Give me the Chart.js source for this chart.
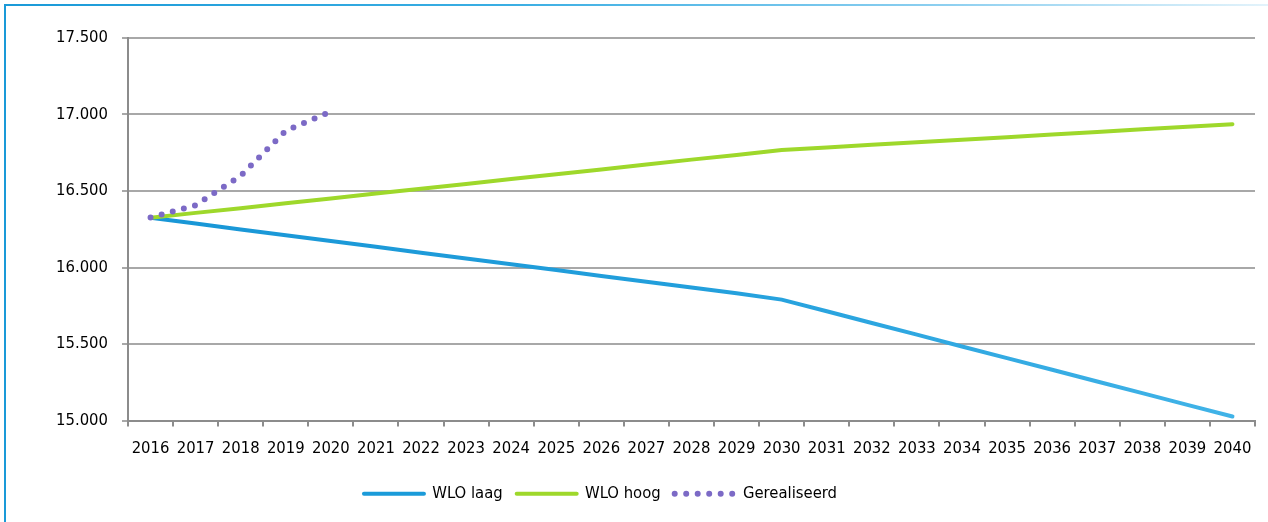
<!DOCTYPE html>
<html>
<head>
<meta charset="utf-8">
<script src="https://cdn.jsdelivr.net/npm/chart.js@4.4.1/dist/chart.umd.min.js"></script>
<style>
  html, body { margin: 0; padding: 0; background: #fff; }
  #wrap { position: relative; width: 1268px; height: 522px; overflow: hidden; }
  #frameTop { position: absolute; left: 4px; top: 4px; width: 1264px; height: 2px;
    background: linear-gradient(to right, #1a9ad8 0%, #3aaee3 40%, #8fd0f0 75%, #e3f3fb 100%); }
  #frameLeft { position: absolute; left: 4px; top: 4px; width: 2px; height: 518px; background: #1a9ad8; }
  canvas { position: absolute; left: 0; top: 0; }
</style>
</head>
<body>
<div id="wrap">
  <canvas id="c" width="1268" height="522"></canvas>
  <div id="frameTop"></div>
  <div id="frameLeft"></div>
</div>
<script>
const years = ['2016','2017','2018','2019','2020','2021','2022','2023','2024','2025','2026','2027','2028','2029','2030','2031','2032','2033','2034','2035','2036','2037','2038','2039','2040'];
const wloLaag = [16325,16287,16249,16211,16173,16135,16097,16059,16021,15983,15945,15907,15869,15831,15790,15714,15637,15561,15484,15408,15332,15255,15179,15102,15026];
const wloHoog = [16325,16357,16388,16420,16451,16483,16515,16546,16578,16610,16641,16673,16705,16736,16768,16785,16802,16819,16835,16852,16869,16886,16903,16920,16937];
const gerealiseerd = [16327,16407,16600,16893,17020,null,null,null,null,null,null,null,null,null,null,null,null,null,null,null,null,null,null,null,null];
const seriesNames = ['WLO laag','WLO hoog','Gerealiseerd'];
const yMin = 15000, yMax = 17500, yStep = 500;

const FONT = "'DejaVu Sans Condensed', 'Liberation Sans Narrow', 'Arial Narrow', sans-serif";
const FSIZE = 16.5;
const AXIS_GRAY = '#8c8c8c';
const GRID_GRAY = '#a8a8a8';
const BLUE = '#1b9bd9';
const GREEN = '#9ed82b';
const PURPLE = '#7c6ac6';

function fmt(v) {
  const s = String(Math.round(v));
  return s.replace(/\B(?=(\d{3})+(?!\d))/g, '.');
}

function blueGradient(ctx) {
  const chart = ctx.chart;
  const area = chart.chartArea;
  if (!area) return BLUE;
  const g = chart.ctx.createLinearGradient(area.left, 0, area.right, 0);
  g.addColorStop(0, '#1896d6');
  g.addColorStop(0.5, '#229fdc');
  g.addColorStop(1, '#42b4e8');
  return g;
}

const legendColors = [BLUE, GREEN, PURPLE];

const legendShift = {
  id: 'legendShift',
  afterLayout(chart) {
    const lg = chart.legend;
    if (lg) { lg.left -= 27; lg.right -= 27; }
  }
};

new Chart(document.getElementById('c'), {
  type: 'line',
  data: {
    labels: years,
    datasets: [
      { label: seriesNames[0], data: wloLaag, borderColor: blueGradient, backgroundColor: BLUE,
        borderWidth: 4, pointRadius: 0, tension: 0, order: 2, borderCapStyle: 'round' },
      { label: seriesNames[1], data: wloHoog, borderColor: GREEN, backgroundColor: GREEN,
        borderWidth: 4, pointRadius: 0, tension: 0, order: 1, borderCapStyle: 'round' },
      { label: seriesNames[2], data: gerealiseerd, borderColor: PURPLE, backgroundColor: PURPLE,
        borderWidth: 6, pointRadius: 0, tension: 0, order: 0, borderCapStyle: 'round',
        borderDash: [0, 11.5], spanGaps: false }
    ]
  },
  plugins: [legendShift],
  options: {
    responsive: false,
    animation: false,
    events: [],
    layout: { padding: { left: 0, right: 13, top: 38, bottom: 10 } },
    plugins: {
      tooltip: { enabled: false },
      legend: {
        position: 'bottom',
        labels: {
          usePointStyle: true,
          pointStyle: 'line',
          pointStyleWidth: 60,
          padding: 14,
          color: '#000',
          font: { family: FONT, size: FSIZE },
          generateLabels: (chart) => {
            const items = Chart.defaults.plugins.legend.labels.generateLabels(chart);
            items.forEach((it) => {
              const ds = chart.data.datasets[it.datasetIndex];
              it.strokeStyle = legendColors[it.datasetIndex];
              it.fillStyle = legendColors[it.datasetIndex];
              it.lineDash = ds.borderDash || [];
              it.lineCap = 'round';
              it.lineWidth = ds.borderWidth;
              it.pointStyle = 'line';
            });
            items.sort((a, b) => a.datasetIndex - b.datasetIndex);
            return items;
          }
        }
      }
    },
    scales: {
      x: {
        type: 'category',
        offset: true,
        afterFit: (s) => { s.height = 51; },
        grid: { offset: true, drawOnChartArea: false, drawTicks: true, tickLength: 6, color: AXIS_GRAY, lineWidth: 2 },
        border: { display: true, color: AXIS_GRAY, width: 2 },
        ticks: { color: '#000', font: { family: FONT, size: FSIZE }, padding: 12, maxRotation: 0, autoSkip: false }
      },
      y: {
        min: yMin, max: yMax,
        afterFit: (s) => { s.width = 128; },
        grid: { color: GRID_GRAY, lineWidth: 2, tickLength: 6, drawTicks: true },
        border: { display: true, color: AXIS_GRAY, width: 2 },
        ticks: { stepSize: yStep, color: '#000', font: { family: FONT, size: FSIZE }, padding: 14,
          callback: (v) => fmt(v) }
      }
    }
  }
});
</script>
</body>
</html>
